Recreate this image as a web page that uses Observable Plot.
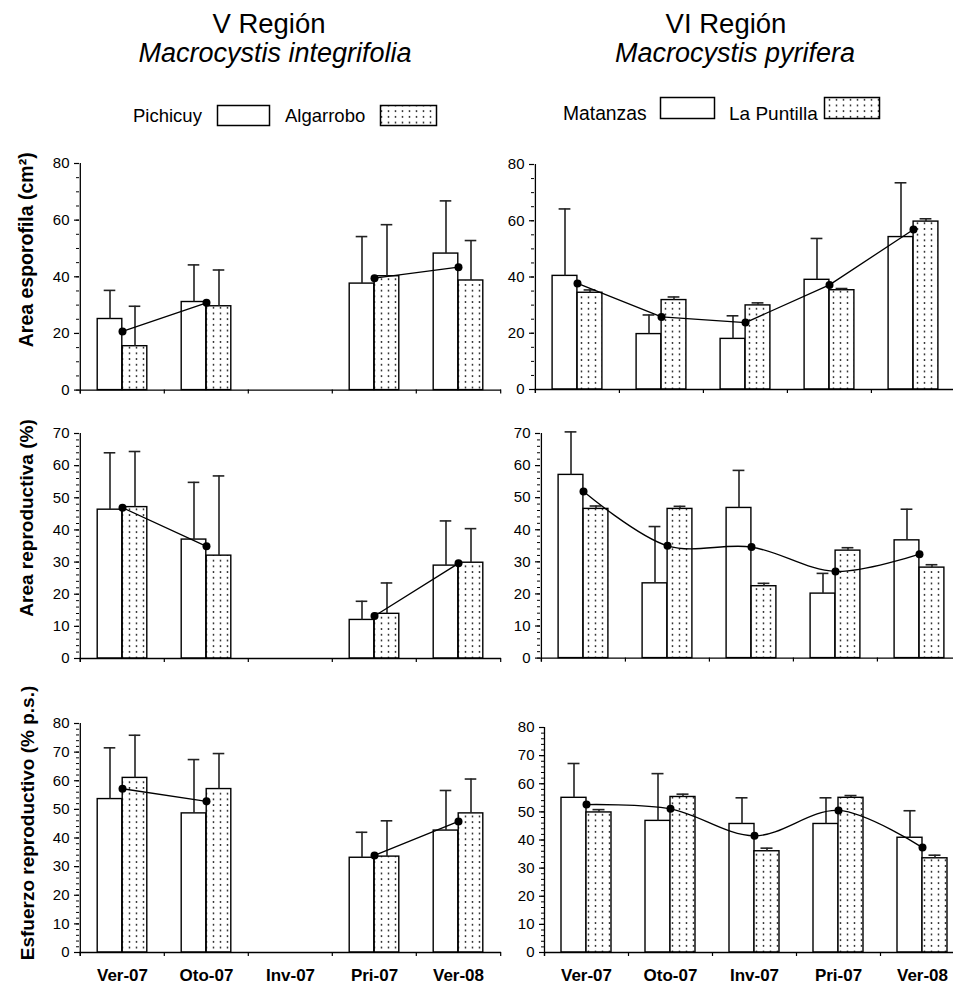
<!DOCTYPE html>
<html><head><meta charset="utf-8">
<script src="https://cdn.jsdelivr.net/npm/d3@7"></script>
<script src="https://cdn.jsdelivr.net/npm/@observablehq/plot@0.6"></script>
<style>
html,body{margin:0;padding:0;background:#fff;overflow:hidden;}
#root{position:relative;width:953px;height:989px;overflow:hidden;font-family:"Liberation Sans",Arial,sans-serif;}
.panel{position:absolute;}
</style></head><body>
<div id="root">
<svg width="0" height="0" style="position:absolute">
  <defs>
    <pattern id="dots" width="7" height="5.7" patternUnits="userSpaceOnUse">
      <rect width="7" height="5.7" fill="#fff"/>
      <circle cx="3.5" cy="2.8" r="0.9" fill="#222"/>
    </pattern>
  </defs>
</svg>
<svg id="header" width="953" height="135" style="position:absolute;left:0;top:0" font-family="Liberation Sans, Arial, sans-serif">
  <text x="269" y="33" font-size="27.5" text-anchor="middle">V Región</text>
  <text x="275" y="62" font-size="27" font-style="italic" text-anchor="middle">Macrocystis integrifolia</text>
  <text x="726" y="33" font-size="27.5" text-anchor="middle">VI Región</text>
  <text x="735" y="62" font-size="27" font-style="italic" text-anchor="middle">Macrocystis pyrifera</text>
  <text x="133" y="122" font-size="18.5">Pichicuy</text>
  <rect x="217.5" y="105.5" width="52" height="20" fill="#fff" stroke="#000" stroke-width="1.5"/>
  <text x="285" y="122" font-size="18.5">Algarrobo</text>
  <rect x="380.5" y="105.5" width="56" height="20" fill="url(#dots)" stroke="#000" stroke-width="1.5"/>
  <text x="563" y="120" font-size="19.3">Matanzas</text>
  <rect x="660.5" y="97.5" width="54" height="21" fill="#fff" stroke="#000" stroke-width="1.5"/>
  <text x="729" y="120" font-size="19">La Puntilla</text>
  <rect x="824.5" y="97.5" width="55" height="21" fill="url(#dots)" stroke="#000" stroke-width="1.5"/>
</svg>
</div>
<script>
// ---------- DATA ----------
const seasons = ["Ver-07", "Oto-07", "Inv-07", "Pri-07", "Ver-08"];

const yTicks80by20 = [0, 20, 40, 60, 80];
const yTicks70by10 = [0, 10, 20, 30, 40, 50, 60, 70];
const yTicks80by10 = [0, 10, 20, 30, 40, 50, 60, 70, 80];

// Area esporofila (cm2) – V Región
const espPichicuy   = [25.1, 31.1, null, 37.6, 48.2];
const espPichicuySD = [10.1, 13.1, null, 16.6, 18.6];
const espAlgarrobo   = [15.5, 29.6, null, 40.2, 38.7];
const espAlgarroboSD = [14.1, 12.8, null, 18.2, 14.1];
const espVMean = [20.7, 30.8, null, 39.5, 43.4];

// Area esporofila (cm2) – VI Región
const espMatanzas   = [40.4, 19.7, 18.0, 39.0, 54.2];
const espMatanzasSD = [23.8, 6.8, 8.2, 14.7, 19.3];
const espPuntilla   = [34.4, 31.8, 29.9, 35.3, 59.7];
const espPuntillaSD = [1.0, 1.1, 0.9, 0.6, 1.0];
const espVIMean = [37.7, 25.8, 23.8, 37.2, 56.9];

// Area reproductiva (%) – V Región
const repPichicuy   = [46.3, 37.0, null, 12.0, 28.9];
const repPichicuySD = [17.7, 17.8, null, 5.8, 13.9];
const repAlgarrobo   = [47.1, 32.0, null, 13.9, 29.8];
const repAlgarroboSD = [17.3, 24.8, null, 9.6, 10.6];
const repVMean = [46.9, 34.9, null, 13.2, 29.6];

// Area reproductiva (%) – VI Región
const repMatanzas   = [57.1, 23.3, 46.8, 20.1, 36.7];
const repMatanzasSD = [13.4, 17.7, 11.7, 6.3, 9.7];
const repPuntilla   = [46.5, 46.5, 22.4, 33.5, 28.2];
const repPuntillaSD = [0.9, 0.8, 0.9, 0.9, 0.9];
const repVIMean = [51.9, 35.0, 34.6, 27.0, 32.4];

// Esfuerzo reproductivo (% p.s.) – V Región
const esfPichicuy   = [53.6, 48.6, null, 33.1, 42.6];
const esfPichicuySD = [17.9, 18.8, null, 8.9, 14.0];
const esfAlgarrobo   = [61.0, 57.1, null, 33.5, 48.6];
const esfAlgarroboSD = [14.9, 12.4, null, 12.5, 12.0];
const esfVMean = [57.2, 52.8, null, 33.9, 45.8];

// Esfuerzo reproductivo (% p.s.) – VI Región
const esfMatanzas   = [55.0, 46.8, 45.7, 45.7, 40.8];
const esfMatanzasSD = [12.2, 16.8, 9.3, 9.3, 9.6];
const esfPuntilla   = [49.8, 55.3, 36.0, 55.0, 33.5];
const esfPuntillaSD = [1.0, 1.0, 1.1, 0.8, 1.1];
const esfVIMean = [52.6, 51.1, 41.5, 50.5, 37.3];

const yLabels = ["Area esporofila (cm²)", "Area reproductiva (%)", "Esfuerzo reproductivo (% p.s.)"];

// ---------- DRAW ----------
const root = document.getElementById("root");

function panel(o) {
  const marginTop = 12;
  const marginBottom = o.showX ? 42 : 10;
  const width = o.svgWidth;
  const marginLeft = o.axisX - o.left;
  const marginRight = (o.left + width) - o.endX;
  const innerH = o.y0 - o.yTop;
  const height = marginTop + innerH + marginBottom;
  const bw = (o.endX - o.axisX) / seasons.length;
  const rows = seasons.map((s, i) => ({season: s, a: o.a[i], ea: o.ea[i], b: o.b[i], eb: o.eb[i], m: o.m[i]}));
  const hasA = d => d.a != null, hasB = d => d.b != null;
  const marks = [
    Plot.barY(rows, {filter: hasA, x: "season", y: "a", fill: "white", stroke: "black", strokeWidth: 1.4, insetLeft: bw / 2 - 25, insetRight: bw / 2}),
    Plot.barY(rows, {filter: hasB, x: "season", y: "b", fill: "url(#dots)", stroke: "black", strokeWidth: 1.4, insetLeft: bw / 2, insetRight: bw / 2 - 25}),
    Plot.ruleX(rows, {filter: hasA, x: "season", y1: "a", y2: d => d.a + d.ea, dx: -12.5, stroke: "#222", strokeWidth: 1.6}),
    Plot.tickY(rows, {filter: hasA, x: "season", y: d => d.a + d.ea, insetLeft: bw / 2 - 12.5 - 6, insetRight: bw / 2 + 12.5 - 6, stroke: "#222", strokeWidth: 1.6}),
    Plot.ruleX(rows, {filter: hasB, x: "season", y1: "b", y2: d => d.b + d.eb, dx: 12.5, stroke: "#222", strokeWidth: 1.6}),
    Plot.tickY(rows, {filter: hasB, x: "season", y: d => d.b + d.eb, insetLeft: bw / 2 + 12.5 - 6, insetRight: bw / 2 - 12.5 - 6, stroke: "#222", strokeWidth: 1.6}),
    Plot.line(rows, {x: "season", y: "m", curve: o.curve, stroke: "black", strokeWidth: 1.3}),
    Plot.dot(rows, {filter: d => d.m != null, x: "season", y: "m", r: 4, fill: "black", stroke: "none"}),
    // axes
    Plot.ruleY([0], {stroke: "black", strokeWidth: 1.3}),
    Plot.ruleX([seasons[0]], {dx: -bw / 2, insetBottom: -4, stroke: "black", strokeWidth: 1.3}),
    Plot.ruleX(seasons, {dx: -bw / 2, insetTop: innerH, insetBottom: -4, stroke: "black", strokeWidth: 1.2}),
    Plot.ruleX([seasons[seasons.length - 1]], {dx: bw / 2, insetTop: innerH, insetBottom: -4, stroke: "black", strokeWidth: 1.2}),
    Plot.axisY({ticks: o.majorTicks, tickSize: 5, tickPadding: 5, fontSize: 15, label: null, strokeWidth: 1.2}),
    Plot.axisY({ticks: o.minorTicks, tickSize: 3, tickFormat: () => "", label: null, strokeWidth: 1}),
    Plot.axisX({ticks: [], label: null})
  ];
  if (o.showX) {
    marks.push(Plot.text(seasons, {x: d => d, text: d => d, frameAnchor: "bottom", dy: 28, fontSize: 17, fontWeight: "bold"}));
  }
  if (o.label) {
    marks.push(Plot.text([o.label], {text: d => d, frameAnchor: "left", rotate: -90, dx: o.labelDx, dy: o.labelDy, fontSize: o.labelSize, fontWeight: "bold", textAnchor: "middle"}));
  }
  const chart = Plot.plot({
    width, height, marginTop, marginBottom, marginLeft, marginRight,
    style: {background: "transparent", overflow: "visible", maxWidth: "none", fontFamily: "Liberation Sans, Arial, sans-serif", fontSize: "15px", color: "black"},
    x: {type: "band", domain: seasons, padding: 0},
    y: {domain: [0, o.yMax]},
    marks
  });
  const div = document.createElement("div");
  div.className = "panel";
  div.style.left = o.left + "px";
  div.style.top = (o.yTop - marginTop) + "px";
  div.style.width = width + "px";
  div.appendChild(chart);
  root.appendChild(div);
}

const linear = "linear", smooth = "catmull-rom";

// Row 1
panel({left: 0, svgWidth: 520, axisX: 79, endX: 501, yTop: 162.7, y0: 389.3, yMax: 80,
  majorTicks: yTicks80by20, minorTicks: d3.range(0, 81, 5),
  a: espPichicuy, ea: espPichicuySD, b: espAlgarrobo, eb: espAlgarroboSD, m: espVMean, curve: linear,
  label: yLabels[0], labelDx: -53, labelDy: -27, labelSize: 19.5});
panel({left: 480, svgWidth: 500, axisX: 534, endX: 955, yTop: 164.3, y0: 389.3, yMax: 80,
  majorTicks: yTicks80by20, minorTicks: d3.range(0, 81, 5),
  a: espMatanzas, ea: espMatanzasSD, b: espPuntilla, eb: espPuntillaSD, m: espVIMean, curve: linear});
// Row 2
panel({left: 0, svgWidth: 520, axisX: 79, endX: 501, yTop: 433.3, y0: 658.3, yMax: 70,
  majorTicks: yTicks70by10, minorTicks: d3.range(0, 71, 2),
  a: repPichicuy, ea: repPichicuySD, b: repAlgarrobo, eb: repAlgarroboSD, m: repVMean, curve: linear,
  label: yLabels[1], labelDx: -53, labelDy: -28, labelSize: 19});
panel({left: 480, svgWidth: 500, axisX: 540, endX: 961, yTop: 432.7, y0: 657.3, yMax: 70,
  majorTicks: yTicks70by10, minorTicks: d3.range(0, 71, 2),
  a: repMatanzas, ea: repMatanzasSD, b: repPuntilla, eb: repPuntillaSD, m: repVIMean, curve: smooth});
// Row 3
panel({left: 0, svgWidth: 520, axisX: 79, endX: 501, yTop: 722.7, y0: 951.7, yMax: 80,
  majorTicks: yTicks80by10, minorTicks: d3.range(0, 81, 2),
  a: esfPichicuy, ea: esfPichicuySD, b: esfAlgarrobo, eb: esfAlgarroboSD, m: esfVMean, curve: linear,
  label: yLabels[2], labelDx: -52, labelDy: -15, labelSize: 19, showX: true});
panel({left: 480, svgWidth: 500, axisX: 544, endX: 964, yTop: 726.7, y0: 951.7, yMax: 80,
  majorTicks: yTicks80by10, minorTicks: d3.range(0, 81, 2),
  a: esfMatanzas, ea: esfMatanzasSD, b: esfPuntilla, eb: esfPuntillaSD, m: esfVIMean, curve: smooth, showX: true});
</script>
</body></html>
